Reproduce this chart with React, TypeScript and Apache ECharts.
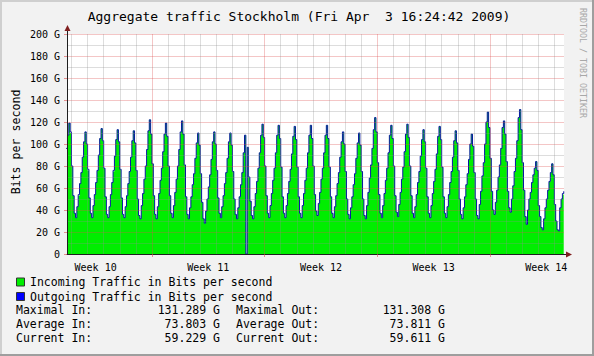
import React, { useEffect, useRef } from "react";
import * as echarts from "echarts";

// ---- Text ----
const TITLE = "Aggregate traffic Stockholm (Fri Apr  3 16:24:42 2009)";
const Y_TITLE = "Bits per second";
const WATERMARK = "RRDTOOL / TOBI OETIKER";
const LEGEND_LABELS = ["Incoming Traffic in Bits per second", "Outgoing Traffic in Bits per second"];
const STAT_NAMES = ["Maximal", "Average", "Current"];
const STAT_IN = ["131.289 G", "73.803 G", "59.229 G"];
const STAT_OUT = ["131.308 G", "73.811 G", "59.611 G"];

// ---- X axis (hours since Mon 00:00 of week 10) ----
const WEEK_LABELS = ["Week 10", "Week 11", "Week 12", "Week 13", "Week 14"];
const WEEK_MIDS = [84, 252, 420, 588, 756];
const WEEK_STARTS = [168, 336, 504, 672];
const DAY_STARTS = [48, 72, 96, 120, 144, 192, 216, 240, 264, 288, 312, 360, 384, 408, 432, 456, 480, 528, 552, 576, 600, 624, 648, 696, 720, 744, 768];
const X_MIN = 41.3;
const X_MAX = 782.4;
const FIRST_DAY = 1; // Tuesday of week 10
const BUCKET_HOURS = 2;

// ---- Y axis (G) ----
const Y_MIN = 0;
const Y_MAX = 200;
const Y_STEP = 20;

// ---- Data: 2-hour averages (00h,02h,...,22h) per day, in Gbit/s ----
const N = null;
const IN_DAYS: (number | null)[][] = [
  // Week 10
  [N, N, N, N, N, N, N, N, 95, 108, 119, 110],
  [80, 53, 37, 33, 43, 53, 64, 74, 88, 102, 111, 100],
  [76, 51, 37, 33, 44, 54, 65, 76, 90, 105, 114, 103],
  [78, 52, 36, 33, 43, 54, 65, 75, 89, 104, 113, 102],
  [77, 51, 36, 33, 43, 53, 64, 75, 88, 103, 112, 101],
  [76, 50, 35, 32, 44, 55, 68, 80, 95, 112, 122, 109],
  // Week 11
  [82, 53, 36, 32, 43, 55, 67, 78, 93, 109, 119, 107],
  [80, 53, 37, 33, 44, 56, 68, 80, 95, 111, 121, 109],
  [81, 52, 36, 32, 42, 52, 63, 73, 87, 101, 110, 99],
  [73, 47, 32, 28, 39, 50, 61, 72, 86, 102, 111, 100],
  [76, 51, 37, 33, 43, 53, 64, 74, 87, 102, 110, 99],
  [75, 50, 36, 32, 42, 52, 63, 74, 92, 108, 0, 97],
  [70, 48, 35, 32, 43, 55, 66, 78, 92, 108, 118, 106],
  // Week 12
  [80, 53, 37, 33, 44, 55, 67, 78, 92, 108, 117, 105],
  [79, 52, 37, 33, 44, 55, 66, 77, 91, 107, 116, 104],
  [79, 52, 37, 33, 44, 55, 67, 78, 92, 108, 117, 105],
  [80, 54, 39, 35, 46, 56, 68, 78, 92, 108, 117, 105],
  [79, 52, 37, 33, 43, 53, 64, 74, 88, 102, 111, 100],
  [75, 50, 36, 32, 42, 52, 63, 73, 87, 101, 110, 99],
  [75, 50, 35, 32, 44, 56, 69, 81, 96, 113, 124, 111],
  // Week 13
  [83, 54, 37, 33, 44, 55, 67, 78, 92, 108, 117, 105],
  [80, 53, 38, 34, 45, 56, 68, 79, 93, 109, 118, 106],
  [80, 53, 37, 33, 43, 54, 65, 75, 89, 104, 113, 102],
  [78, 52, 37, 33, 44, 55, 66, 77, 91, 107, 116, 104],
  [79, 52, 37, 33, 43, 54, 65, 75, 88, 103, 112, 101],
  [76, 50, 36, 32, 42, 52, 63, 73, 86, 100, 109, 98],
  [74, 50, 35, 32, 45, 57, 71, 83, 100, 120, 129, 115],
  // Week 14
  [87, 57, 40, 36, 47, 58, 70, 81, 96, 115, 121, 109],
  [84, 57, 42, 38, 50, 62, 75, 87, 103, 124, 131.3, 113],
  [83, 58, 34, 27, 40, 50, 56, 65, 72, 78, 84, 76],
  [44, 34, 24, 22, 32, 42, 50, 58, 66, 74, 82, 72],
  [45, 30, 22, 21, 42, 50, 54, 56, N, N, N, N],
];

const OUT_DAYS: (number | null)[][] = [
  // Week 10
  [N, N, N, N, N, N, N, N, 96, 108, 119, 111],
  [80, 53, 37, 33, 43, 54, 64, 74, 88, 102, 111, 100],
  [77, 51, 37, 33, 44, 54, 65, 76, 90, 105, 114, 103],
  [78, 52, 36, 33, 43, 54, 65, 76, 89, 104, 113, 102],
  [77, 51, 36, 33, 43, 53, 64, 75, 88, 103, 112, 101],
  [76, 50, 35, 32, 44, 55, 68, 80, 95, 112, 122, 109],
  // Week 11
  [82, 53, 36, 32, 43, 55, 67, 78, 93, 109, 119, 107],
  [80, 53, 37, 33, 44, 56, 68, 80, 95, 111, 121, 109],
  [81, 52, 36, 32, 42, 52, 63, 73, 87, 101, 110, 99],
  [73, 47, 32, 28, 39, 50, 61, 72, 86, 102, 111, 100],
  [76, 51, 37, 33, 43, 53, 64, 74, 87, 102, 110, 99],
  [75, 50, 36, 32, 42, 52, 63, 74, 92, 108, 0, 97],
  [70, 48, 35, 32, 43, 55, 66, 78, 92, 108, 118, 106],
  // Week 12
  [80, 53, 37, 33, 44, 55, 67, 78, 92, 108, 117, 105],
  [79, 52, 37, 33, 44, 55, 66, 77, 91, 107, 116, 104],
  [79, 52, 37, 33, 44, 55, 67, 78, 92, 108, 117, 105],
  [80, 54, 39, 35, 46, 56, 68, 78, 92, 108, 117, 105],
  [79, 52, 37, 33, 43, 53, 64, 74, 88, 102, 111, 100],
  [75, 50, 36, 32, 42, 52, 63, 73, 87, 101, 110, 99],
  [75, 50, 35, 32, 44, 56, 69, 81, 96, 113, 124, 111],
  // Week 13
  [83, 54, 37, 33, 44, 55, 67, 78, 92, 108, 117, 105],
  [80, 53, 38, 34, 45, 56, 68, 79, 93, 109, 118, 106],
  [80, 53, 37, 33, 43, 54, 65, 75, 89, 104, 113, 102],
  [78, 52, 37, 33, 44, 55, 66, 77, 91, 107, 116, 104],
  [79, 52, 37, 33, 43, 54, 65, 75, 88, 103, 112, 101],
  [76, 50, 36, 32, 42, 52, 63, 73, 86, 100, 109, 98],
  [74, 50, 35, 32, 45, 57, 71, 83, 100, 120, 129, 115],
  // Week 14
  [87, 57, 40, 36, 47, 58, 70, 81, 96, 115, 121, 109],
  [84, 57, 42, 38, 50, 62, 75, 87, 103, 124, 131.3, 113],
  [83, 58, 34, 27, 40, 50, 56, 65, 72, 78, 84, 76],
  [44, 34, 24, 22, 32, 42, 50, 58, 66, 74, 82, 72],
  [45, 30, 22, 21, 42, 50, 55, 57, N, N, N, N],
];

const IN_COLOR = "#00ee00";
const OUT_COLOR = "#0000ff";
const OUT_LINE = "#0818a0";
const MONO = "DejaVu Sans Mono";

function toPoints(days: (number | null)[][]): [number, number][] {
  const pts: [number, number][] = [];
  days.forEach((day, i) => {
    day.forEach((v, b) => {
      if (v !== null) pts.push([(FIRST_DAY + i) * 24 + b * BUCKET_HOURS, v]);
    });
  });
  return pts;
}

export default function App() {
  const ref = useRef<HTMLDivElement>(null);

  useEffect(() => {
    if (!ref.current) return;
    const chart = echarts.init(ref.current, null, { renderer: "svg" });

    const gridMinor = "rgba(143,143,143,0.3)";
    const gridMajor = "rgba(222,79,79,0.32)";

    const graphics: any[] = [
      // frame bevel
      { type: "line", shape: { x1: 0, y1: 1, x2: 594, y2: 1 }, style: { stroke: "#cfcfcf", lineWidth: 2 } },
      { type: "line", shape: { x1: 1, y1: 0, x2: 1, y2: 356 }, style: { stroke: "#cfcfcf", lineWidth: 2 } },
      { type: "line", shape: { x1: 0, y1: 355, x2: 594, y2: 355 }, style: { stroke: "#9e9e9e", lineWidth: 2 } },
      { type: "line", shape: { x1: 593, y1: 0, x2: 593, y2: 356 }, style: { stroke: "#9e9e9e", lineWidth: 2 } },
      // title
      {
        type: "text", x: 299, y: 16,
        style: { text: TITLE, fontFamily: MONO, fontSize: 13, fill: "#000", align: "center", verticalAlign: "middle" },
      },
      // y title
      {
        type: "text", x: 16, y: 142, rotation: Math.PI / 2,
        style: { text: Y_TITLE, fontFamily: MONO, fontSize: 11.6, fill: "#000", align: "center", verticalAlign: "middle" },
      },
      // watermark
      {
        type: "text", x: 583, y: 63, rotation: -Math.PI / 2,
        style: { text: WATERMARK, fontFamily: MONO, fontSize: 8.3, fill: "#a8a8a8", align: "center", verticalAlign: "middle" },
      },
      // axis extensions & arrows
      { type: "line", z: 10, shape: { x1: 67.5, y1: 34, x2: 67.5, y2: 29 }, style: { stroke: "#1f1f1f", lineWidth: 1 } },
      { type: "polygon", z: 10, shape: { points: [[64.5, 31], [70.5, 31], [67.5, 25]] }, style: { fill: "#801f1f" } },
      { type: "line", z: 10, shape: { x1: 564, y1: 254.5, x2: 567, y2: 254.5 }, style: { stroke: "#1f1f1f", lineWidth: 1 } },
      { type: "polygon", z: 10, shape: { points: [[566, 251.5], [566, 257.5], [572, 254.5]] }, style: { fill: "#801f1f" } },
    ];

    // legend boxes + labels
    const legendColors = [IN_COLOR, OUT_COLOR];
    LEGEND_LABELS.forEach((label, i) => {
      const cy = 282 + i * 14.5;
      graphics.push({
        type: "rect", shape: { x: 16.5, y: cy - 4, width: 8, height: 8 },
        style: { fill: legendColors[i], stroke: "#333", lineWidth: 1 },
      });
      graphics.push({
        type: "text", x: 30, y: cy,
        style: { text: label, fontFamily: MONO, fontSize: 11.5, fill: "#000", verticalAlign: "middle" },
      });
    });
    STAT_NAMES.forEach((name, i) => {
      const cy = 310 + i * 14;
      graphics.push({ type: "text", x: 16, y: cy, style: { text: `${name} In:`, fontFamily: MONO, fontSize: 11.5, fill: "#000", verticalAlign: "middle" } });
      graphics.push({ type: "text", x: 220, y: cy, style: { text: STAT_IN[i], fontFamily: MONO, fontSize: 11.5, fill: "#000", align: "right", verticalAlign: "middle" } });
      graphics.push({ type: "text", x: 236, y: cy, style: { text: `${name} Out:`, fontFamily: MONO, fontSize: 11.5, fill: "#000", verticalAlign: "middle" } });
      graphics.push({ type: "text", x: 445, y: cy, style: { text: STAT_OUT[i], fontFamily: MONO, fontSize: 11.5, fill: "#000", align: "right", verticalAlign: "middle" } });
    });

    chart.setOption({
      animation: false,
      backgroundColor: "#f2f2f2",
      grid: { left: 67, right: 30, top: 34, bottom: 102, show: true, backgroundColor: "#ffffff", borderWidth: 0 },
      xAxis: [
        {
          type: "value", min: X_MIN, max: X_MAX, position: "bottom", z: 5,
          axisLine: { show: true, onZero: false, lineStyle: { color: "#1f1f1f", width: 1 } },
          axisTick: { show: false, customValues: DAY_STARTS },
          axisLabel: { show: false },
          splitLine: { show: true, lineStyle: { color: gridMinor, width: 1 } },
        },
        {
          type: "value", min: X_MIN, max: X_MAX, position: "bottom", z: 6,
          axisLine: { show: false, onZero: false },
          axisTick: { show: true, length: 3, customValues: WEEK_STARTS, lineStyle: { color: "rgba(222,79,79,0.6)" } },
          axisLabel: {
            show: true, customValues: WEEK_MIDS, margin: 8,
            fontFamily: MONO, fontSize: 10, color: "#000",
            formatter: (v: number) => WEEK_LABELS[WEEK_MIDS.indexOf(v)] ?? "",
          },
          splitLine: { show: true, lineStyle: { color: gridMajor, width: 1 } },
        },
      ],
      yAxis: {
        type: "value", min: Y_MIN, max: Y_MAX, interval: Y_STEP, z: 5,
        axisLine: { show: true, lineStyle: { color: "#1f1f1f", width: 1 } },
        axisTick: { show: true, length: 3, lineStyle: { color: "rgba(222,79,79,0.6)" } },
        axisLabel: {
          margin: 7, fontFamily: MONO, fontSize: 10, color: "#000",
          formatter: (v: number) => (v === 0 ? "0" : `${v} G`),
        },
        splitLine: { show: true, lineStyle: { color: gridMajor, width: 1 } },
        minorTick: { show: false, splitNumber: 2 },
        minorSplitLine: { show: true, lineStyle: { color: gridMinor, width: 1 } },
      },
      series: [
        {
          name: "In", type: "line", step: "end", data: toPoints(IN_DAYS),
          symbol: "none", silent: true, z: 2,
          lineStyle: { width: 0, opacity: 0 },
          itemStyle: { color: IN_COLOR },
          areaStyle: { color: IN_COLOR, opacity: 1 },
        },
        {
          name: "Out", type: "line", step: "end", data: toPoints(OUT_DAYS),
          symbol: "none", silent: true, z: 3,
          lineStyle: { color: OUT_LINE, width: 1 },
          itemStyle: { color: OUT_COLOR },
        },
      ],
      graphic: graphics,
    });

    return () => chart.dispose();
  }, []);

  return <div ref={ref} style={{ position: "absolute", left: 0, top: 0, width: 594, height: 356 }} />;
}
